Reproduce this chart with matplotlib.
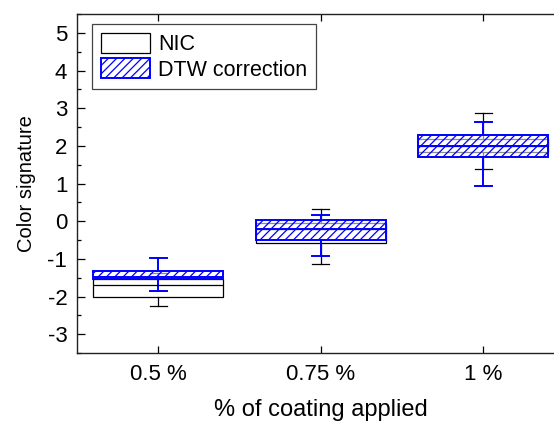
import matplotlib
matplotlib.use("Agg")
import matplotlib.pyplot as plt
from matplotlib.patches import Patch
from matplotlib.ticker import MultipleLocator

plt.rcParams['font.family'] = ['Liberation Sans', 'DejaVu Sans']
plt.rcParams['hatch.linewidth'] = 0.9
plt.rcParams['axes.unicode_minus'] = False

categories = ['0.5 %', '0.75 %', '1 %']
positions = [0.5, 0.75, 1.0]

# NIC
nic_whislo = [-2.24, -1.13, 1.38]
nic_q1 = [-2.00, -0.58, 1.84]
nic_med = [-1.70, -0.22, 2.00]
nic_q3 = [-1.53, -0.05, 2.17]
nic_whishi = [-1.38, 0.32, 2.87]

# DTW correction
dtw_whislo = [-1.86, -0.92, 0.93]
dtw_q1 = [-1.53, -0.51, 1.71]
dtw_med = [-1.49, -0.21, 2.00]
dtw_q3 = [-1.31, 0.03, 2.30]
dtw_whishi = [-0.99, 0.17, 2.63]


def stats(lo, q1, med, q3, hi):
    return [dict(whislo=a, q1=b, med=c, q3=d, whishi=e, fliers=[])
            for a, b, c, d, e in zip(lo, q1, med, q3, hi)]


fig = plt.figure(figsize=(5.54, 4.25), dpi=100)
ax = fig.add_axes([0.139, 0.1694, 0.880, 0.7976])

bw = 0.2
cw = 0.026

k = dict(color='black', linewidth=0.9)
ax.bxp(stats(nic_whislo, nic_q1, nic_med, nic_q3, nic_whishi),
       positions=positions, widths=bw, capwidths=cw, patch_artist=True,
       boxprops=dict(facecolor='white', edgecolor='black', linewidth=0.9),
       medianprops=k, whiskerprops=k, capprops=k, manage_ticks=False)

b = dict(color='#0000ff', linewidth=1.4)
ax.bxp(stats(dtw_whislo, dtw_q1, dtw_med, dtw_q3, dtw_whishi),
       positions=positions, widths=bw, capwidths=cw, patch_artist=True,
       boxprops=dict(facecolor=(1, 1, 1, 0.55), edgecolor='#0000ff',
                     linewidth=1.4, hatch='////'),
       medianprops=b, whiskerprops=b, capprops=b, manage_ticks=False)

ax.set_xlim(0.375, 1.125)
ax.set_ylim(-3.5, 5.5)
ax.set_xticks(positions)
ax.set_xticklabels(categories)
ax.yaxis.set_major_locator(MultipleLocator(1))
ax.yaxis.set_minor_locator(MultipleLocator(0.5))
ax.set_yticks(range(-3, 6))

ax.tick_params(axis='both', which='both', direction='in', top=True,
               right=False, labelsize=16)
ax.tick_params(axis='y', which='major', length=6, width=0.9, pad=7)
ax.tick_params(axis='y', which='minor', length=3, width=0.9)
ax.tick_params(axis='x', which='major', length=5, width=0.9, pad=8)
ax.tick_params(axis='x', which='minor', top=False, bottom=False)
for s in ax.spines.values():
    s.set_linewidth(1.0)
    s.set_color('#222222')
ax.spines['right'].set_visible(False)

ax.set_xlabel('% of coating applied', fontsize=17, labelpad=10)
ax.set_ylabel('Color signature', fontsize=14.5, labelpad=8)

handles = [Patch(facecolor='white', edgecolor='black', linewidth=0.9, label='NIC'),
           Patch(facecolor='white', edgecolor='#0000ff', linewidth=1.4,
                 hatch='////', label='DTW correction')]
leg = ax.legend(handles=handles, loc='upper left',
                bbox_to_anchor=(0.031, 0.9705), fontsize=15.5,
                frameon=True, fancybox=False, framealpha=1,
                edgecolor='#444444', handlelength=2.3, handleheight=1.05,
                handletextpad=0.35, labelspacing=0.15, borderpad=0.4,
                borderaxespad=0)
leg.get_frame().set_linewidth(0.9)

fig.savefig('out.png', dpi=100)
